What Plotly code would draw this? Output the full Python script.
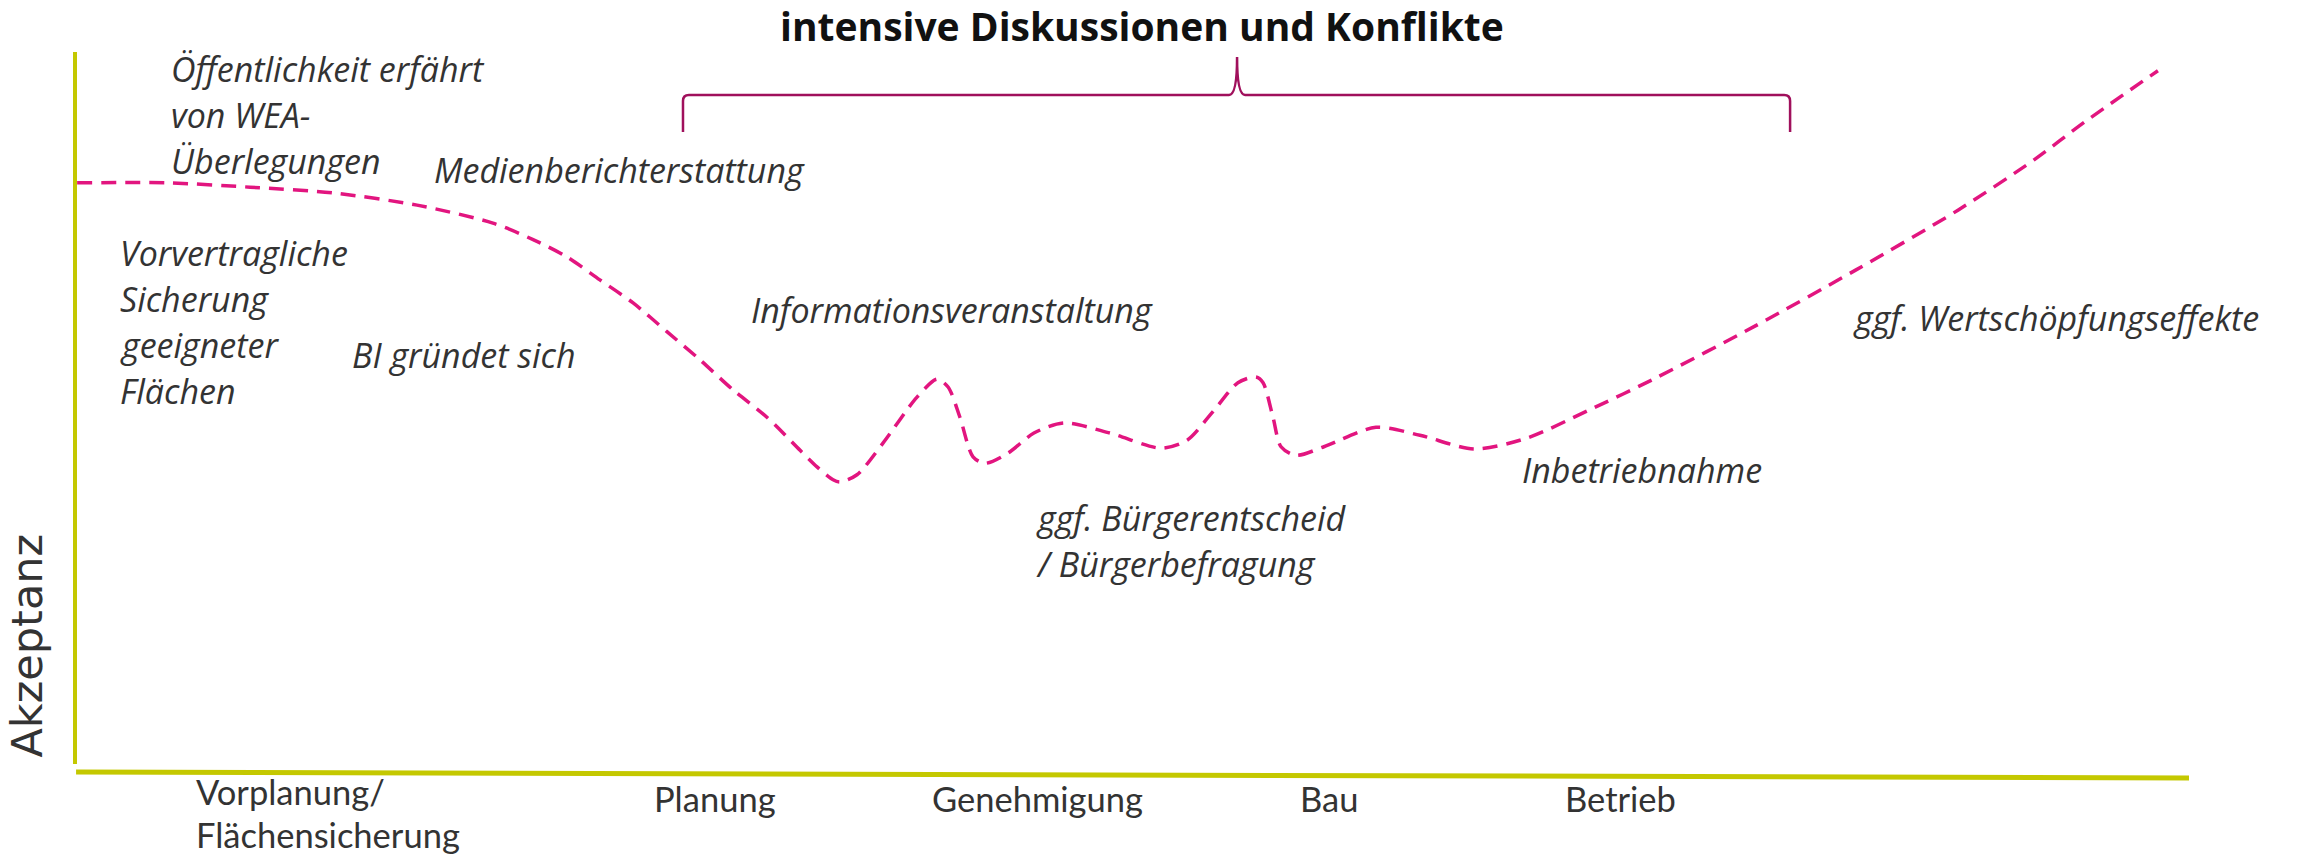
import plotly.graph_objects as go

# ---------------- data ----------------
# acceptance curve over project time (x: 0-100 project course, y: 0-100 acceptance)
curve_x = [0.1, 4.35, 8.28, 12.20, 16.18, 19.77, 21.67, 23.27, 24.83, 26.40, 28.00, 29.56,
           31.13, 32.73, 34.30, 35.10, 35.86, 36.19, 36.99, 38.22, 39.83, 40.78, 41.30,
           41.86, 42.48, 43.05, 44.13, 45.36, 46.78, 48.96, 51.37, 52.60, 53.78, 55.01,
           55.87, 56.20, 56.67, 57.05, 57.76, 59.08, 61.54, 63.62, 66.18, 68.68, 71.62,
           74.60, 79.42, 84.25, 89.07, 92.67, 95.08, 98.53]
curve_y = [81.8, 81.8, 81.2, 80.4, 78.7, 76.2, 73.9, 71.5, 68.3, 65.1, 61.1, 57.2,
           53.0, 49.2, 44.6, 42.3, 40.5, 40.2, 41.2, 45.6, 52.0, 54.5, 53.4,
           49.2, 43.7, 42.8, 44.2, 47.0, 48.4, 47.0, 44.9, 46.0, 49.8, 54.0,
           54.8, 54.0, 49.2, 45.1, 43.9, 45.1, 47.8, 46.7, 44.8, 46.3, 50.2,
           54.4, 61.8, 69.7, 78.0, 85.0, 90.3, 97.4]

# project phases (x-axis labels)
phases = ["Vorplanung/<br>Flächensicherung", "Planung", "Genehmigung", "Bau", "Betrieb"]
phase_x = [5.63, 27.30, 40.45, 57.86, 70.39]

# events along the curve
events = [
    ["Öffentlichkeit erfährt", "von WEA-", "Überlegungen"],
    ["Medienberichterstattung"],
    ["Vorvertragliche", "Sicherung", "geeigneter", "Flächen"],
    ["BI gründet sich"],
    ["Informationsveranstaltung"],
    ["ggf. Bürgerentscheid", "/ Bürgerbefragung"],
    ["Inbetriebnahme"],
    ["ggf. Wertschöpfungseffekte"],
]
event_x = [4.45, 16.89, 2.03, 13.0, 31.88, 45.36, 68.35, 84.01]
event_y = [97.9, 83.8, 72.2, 58.0, 64.3, 35.4, 42.1, 63.2]

# bracket "intensive Diskussionen und Konflikte"
bracket_title = "intensive Diskussionen und Konflikte"
bracket_start, bracket_mid, bracket_end = 28.76, 54.97, 81.13

y_label = "Akzeptanz"

# ---------------- styling ----------------
AXIS_COL = "#c4c800"
CURVE_COL = "#e2157f"
BRACKET_COL = "#a0105c"
TEXT_COL = "#333333"

fig = go.Figure()

fig.add_trace(go.Scatter(
    x=curve_x, y=curve_y, mode="lines",
    line=dict(color=CURVE_COL, width=3.5, dash="15px,9px", shape="spline", smoothing=0.8),
    hoverinfo="skip", showlegend=False,
))

shapes = []
# y axis
shapes.append(dict(type="line", xref="x", yref="y", x0=0, x1=0, y0=100, y1=0.97,
                   line=dict(color=AXIS_COL, width=4)))
# x axis (slightly tilted as in the original)
shapes.append(dict(type="line", xref="x", yref="y", x0=0.05, x1=100, y0=-0.14, y1=-0.97,
                   line=dict(color=AXIS_COL, width=5)))

# curly bracket
by_tip, by_h, by_top = 88.87, 94.02, 99.30
rx, ry, rxc = 0.28, 0.83, 0.38
b0, bm, b1 = bracket_start, bracket_mid, bracket_end
path = (f"M {b0},{by_tip} L {b0},{by_h-ry} Q {b0},{by_h} {b0+rx},{by_h} "
        f"L {bm-rxc},{by_h} Q {bm},{by_h} {bm},{by_top} "
        f"Q {bm},{by_h} {bm+rxc},{by_h} L {b1-rx},{by_h} "
        f"Q {b1},{by_h} {b1},{by_h-ry} L {b1},{by_tip}")
shapes.append(dict(type="path", xref="x", yref="y", path=path,
                   line=dict(color=BRACKET_COL, width=2.5)))

annotations = []
# event labels, one annotation per line
LINE_STEP = 6.4  # in y data units (~46 px)
for lines, ex, ey in zip(events, event_x, event_y):
    for i, t in enumerate(lines):
        annotations.append(dict(
            x=ex, y=ey - 0.2 - i * LINE_STEP, xref="x", yref="y", text=t, showarrow=False,
            xanchor="left", yanchor="middle",
            font=dict(family="Open Sans", size=34, color=TEXT_COL, style="italic"),
        ))

# phase labels
for ph, px in zip(phases, phase_x):
    parts = ph.split("<br>")
    for i, t in enumerate(parts):
        yy = (-3.76 if len(parts) == 1 else -2.92 - i * 5.98)
        annotations.append(dict(
            x=px, y=yy, xref="x", yref="y", text=t, showarrow=False,
            xanchor="left", yanchor="middle",
            font=dict(family="Lato", size=34.5, color=TEXT_COL),
        ))

# bracket title
annotations.append(dict(
    x=50.47, y=103.7, xref="x", yref="y", text=bracket_title, showarrow=False,
    xanchor="center", yanchor="middle",
    font=dict(family="Open Sans", size=39, color="#111111", weight="bold"),
))

# y axis title
annotations.append(dict(
    x=-2.27, y=17.45, xref="x", yref="y", text=y_label, showarrow=False,
    xanchor="center", yanchor="middle", textangle=-90,
    font=dict(family="DejaVu Sans", size=43, color=TEXT_COL),
))

fig.update_layout(
    width=2297, height=855,
    margin=dict(l=0, r=0, t=0, b=0),
    paper_bgcolor="white", plot_bgcolor="white",
    xaxis=dict(range=[-3.548, 105.109], visible=False, fixedrange=True),
    yaxis=dict(range=[-11.683, 107.232], visible=False, fixedrange=True),
    shapes=shapes, annotations=annotations,
    showlegend=False,
)

fig.write_html("out.html", config={"displayModeBar": False},
               post_script="document.body.style.margin='0px';document.body.style.overflow='hidden';")
